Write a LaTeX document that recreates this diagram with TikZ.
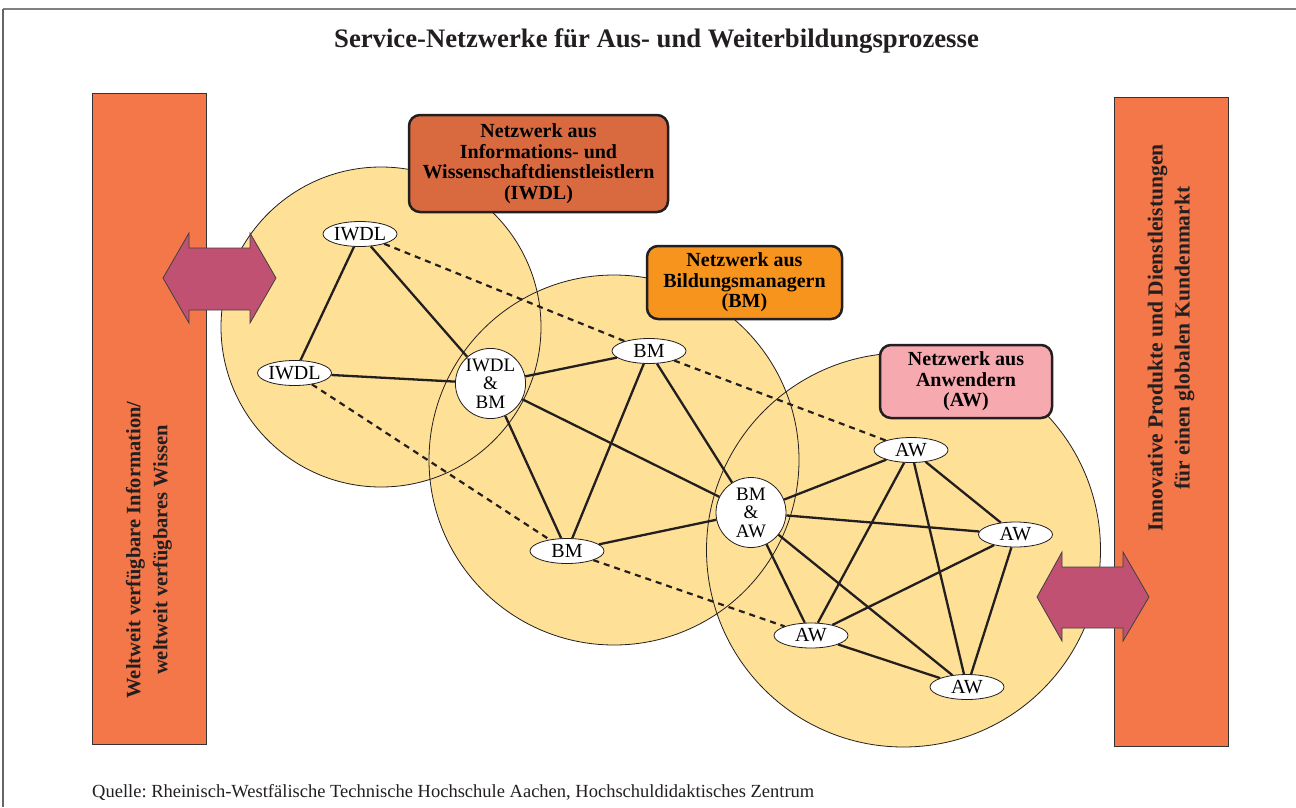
\documentclass[tikz,border=0pt]{standalone}
\usepackage{fontspec}
\setmainfont{Liberation Serif}
\usetikzlibrary{shapes.geometric}
\definecolor{barcol}{HTML}{F37748}
\definecolor{iwdlcol}{HTML}{D96A40}
\definecolor{bmcol}{HTML}{F7941D}
\definecolor{awcol}{HTML}{F7A9B0}
\definecolor{circfill}{HTML}{FEE096}
\definecolor{arrowcol}{HTML}{C05173}
\definecolor{linecol}{HTML}{231F20}
\frenchspacing
\begin{document}
\begin{tikzpicture}[x=1pt,y=-1pt,
  netnode/.style={ellipse, draw=linecol, line width=0.8pt, fill=white, minimum width=74pt, minimum height=25pt, inner sep=0pt, font=\fontsize{20}{17}\selectfont},
  hubnode/.style={circle, draw=linecol, line width=0.8pt, fill=white, minimum size=70pt, inner sep=0pt, align=center, font=\fontsize{19}{18.5}\selectfont},
  link/.style={line width=2.3pt, draw=linecol},
  dlink/.style={line width=2.2pt, draw=linecol, dash pattern=on 6pt off 5pt},
  netbox/.style={draw=linecol, line width=2.5pt, rounded corners=11pt, align=center, font=\fontsize{20}{20.5}\selectfont\bfseries, inner sep=0pt},
  bar/.style={draw=black!80, line width=1pt, fill=barcol},
  bartext/.style={rotate=90, align=center, text=linecol},
  bigarrow/.style={draw=black!75, line width=0.8pt, fill=arrowcol},
  netcircle/.style={fill=circfill},
  netring/.style={draw=linecol, line width=0.8pt}
]
\useasboundingbox (0,0) rectangle (1296,807);
\fill[white] (0,0) rectangle (1296,807);
% frame
\draw[gray, line width=2pt] (3,9) -- (1296,9);
\draw[black!60, line width=1.2pt] (3,9) -- (3,807);

% title
\node[font=\fontsize{26.7}{30}\selectfont\bfseries, text=linecol] (title) at (656.5,41) {Service-Netzwerke für Aus- und Weiterbildungsprozesse};

% bars
\draw[bar] (92,93) rectangle (206,744);
\draw[bar] (1114,97) rectangle (1228,746);
\node[bartext, font=\fontsize{20.5}{27}\selectfont\bfseries] (lefttext) at (149,550) {Weltweit verfügbare Information/\\weltweit verfügbares Wissen};
\node[bartext, font=\fontsize{21.5}{27}\selectfont\bfseries] (righttext) at (1171,338) {Innovative Produkte und Dienstleistungen\\für einen globalen Kundenmarkt};

% circles
\fill[netcircle] (381,327) circle[radius=160pt];
\fill[netcircle] (614,460) circle[radius=185pt];
\fill[netcircle] (903.5,550) circle[radius=197pt];
\draw[netring] (381,327) circle[radius=160pt];
\draw[netring] (614,460) circle[radius=185pt];
\draw[netring] (903.5,550) circle[radius=197pt];

% nodes
\node[netnode] (i1) at (360,234) {IWDL};
\node[netnode] (i2) at (294.5,373) {IWDL};
\node[hubnode] (ib) at (490.5,383.5) {IWDL\\\&\\BM};
\node[netnode] (b1) at (649,351) {BM};
\node[netnode] (b2) at (567,551) {BM};
\node[hubnode] (ba) at (751,512.5) {BM\\\&\\AW};
\node[netnode] (a1) at (911,450) {AW};
\node[netnode] (a2) at (1015.5,534.5) {AW};
\node[netnode] (a3) at (811,635.5) {AW};
\node[netnode] (a4) at (967,687) {AW};

% solid links
\draw[link] (i1) -- (i2);
\draw[link] (i1) -- (ib);
\draw[link] (i2) -- (ib);
\draw[link] (ib) -- (b1);
\draw[link] (ib) -- (b2);
\draw[link] (ib) -- (ba);
\draw[link] (b1) -- (b2);
\draw[link] (b1) -- (ba);
\draw[link] (b2) -- (ba);
\draw[link] (ba) -- (a1);
\draw[link] (ba) -- (a2);
\draw[link] (ba) -- (a3);
\draw[link] (ba) -- (a4);
\draw[link] (a1) -- (a2);
\draw[link] (a1) -- (a3);
\draw[link] (a1) -- (a4);
\draw[link] (a2) -- (a3);
\draw[link] (a2) -- (a4);
\draw[link] (a3) -- (a4);
% dashed links
\draw[dlink] (i1) -- (b1);
\draw[dlink] (i2) -- (b2);
\draw[dlink] (b1) -- (a1);
\draw[dlink] (b2) -- (a3);

% label boxes
\node[netbox, fill=iwdlcol, minimum width=259pt, minimum height=97pt] (iwdlbox) at (538.5,163.5) {Netzwerk aus\\Informations- und\\Wissenschaftdienstleistlern\\(IWDL)};
\node[netbox, fill=bmcol, minimum width=195pt, minimum height=73pt] (bmbox) at (744.5,282.5) {Netzwerk aus\\Bildungsmanagern\\(BM)};
\node[netbox, fill=awcol, minimum width=172pt, minimum height=73pt] (awbox) at (966,381.5) {Netzwerk aus\\Anwendern\\(AW)};

% double arrows
\draw[bigarrow] (163,278) -- (189,233) -- (189,248) -- (250,248) -- (250,233) -- (276,278) -- (250,323) -- (250,310) -- (189,310) -- (189,323) -- cycle;
\draw[bigarrow] (1037,597) -- (1062,552) -- (1062,567) -- (1123,567) -- (1123,552) -- (1149,597) -- (1123,641) -- (1123,628) -- (1062,628) -- (1062,641) -- cycle;

% source
\node[anchor=base west, font=\fontsize{18.5}{20}\selectfont, text=linecol, inner sep=0pt] (src) at (92,797) {Quelle: Rheinisch-Westfälische Technische Hochschule Aachen, Hochschuldidaktisches Zentrum};
\end{tikzpicture}
\end{document}
